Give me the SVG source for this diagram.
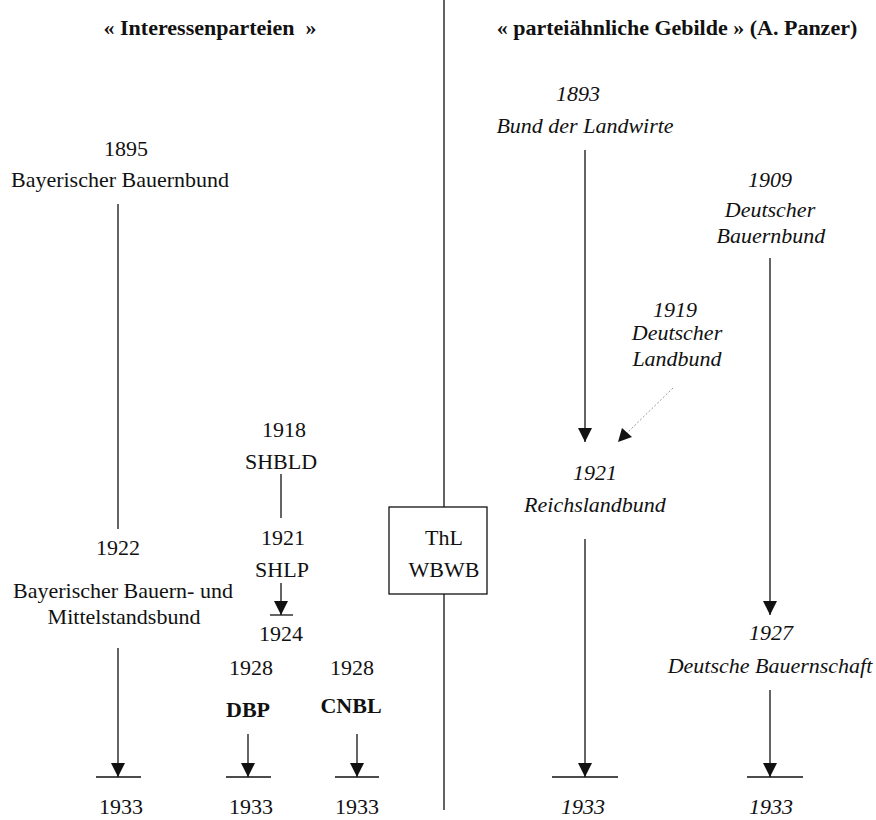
<svg xmlns="http://www.w3.org/2000/svg" width="876" height="820" viewBox="0 0 876 820">
<style>
text{font-family:"Liberation Serif","Times New Roman",serif;font-size:22px;fill:#111;text-anchor:middle}
.b{font-weight:bold}
.i{font-style:italic}
.ln{stroke:#111;stroke-width:1.3;fill:none}
.dot{stroke:#999;stroke-width:1;stroke-dasharray:2 2;fill:none}
</style>
<defs>
<marker id="ah" markerUnits="userSpaceOnUse" markerWidth="14" markerHeight="14" refX="14" refY="7" orient="auto">
<path d="M0,0 L14,7 L0,14 z" fill="#111"/>
</marker>
</defs>
<rect width="876" height="820" fill="#fff"/>
<g id="titles">
<text class="b" x="210" y="35">« Interessenparteien&#160; »</text>
<text class="b" x="677" y="35">« parteiähnliche Gebilde » (A. Panzer)</text>
</g>
<g id="connectors">
<line class="ln" x1="444" y1="0" x2="444" y2="810"/>
<line class="ln" x1="118" y1="204" x2="118" y2="529"/>
<line class="ln" x1="118" y1="648" x2="118" y2="777" marker-end="url(#ah)"/>
<line class="ln" x1="96" y1="777" x2="141" y2="777"/>
<line class="ln" x1="281" y1="474" x2="281" y2="518"/>
<line class="ln" x1="281" y1="583" x2="281" y2="615" marker-end="url(#ah)"/>
<line class="ln" x1="270" y1="615" x2="293" y2="615"/>
<line class="ln" x1="248" y1="734" x2="248" y2="777" marker-end="url(#ah)"/>
<line class="ln" x1="226" y1="777" x2="271" y2="777"/>
<line class="ln" x1="357" y1="734" x2="357" y2="777" marker-end="url(#ah)"/>
<line class="ln" x1="335" y1="777" x2="379" y2="777"/>
<line class="ln" x1="585" y1="150" x2="585" y2="442" marker-end="url(#ah)"/>
<line class="dot" x1="673" y1="388" x2="627" y2="433"/>
<path d="M618,442 L622,428 L632,437 z" fill="#111"/>
<line class="ln" x1="585" y1="539" x2="585" y2="777" marker-end="url(#ah)"/>
<line class="ln" x1="552" y1="777" x2="618" y2="777"/>
<line class="ln" x1="770" y1="258" x2="770" y2="615" marker-end="url(#ah)"/>
<line class="ln" x1="770" y1="690" x2="770" y2="777" marker-end="url(#ah)"/>
<line class="ln" x1="747" y1="777" x2="803" y2="777"/>
</g>
<g id="bbb">
<text x="126" y="156">1895</text>
<text x="120" y="187">Bayerischer Bauernbund</text>
</g>
<g id="bbmb">
<text x="118" y="555">1922</text>
<text x="123" y="598">Bayerischer Bauern- und</text>
<text x="124" y="624">Mittelstandsbund</text>
<text x="121" y="814">1933</text>
</g>
<g id="shbld">
<text x="284" y="437">1918</text>
<text x="281" y="469">SHBLD</text>
</g>
<g id="shlp">
<text x="283" y="545">1921</text>
<text x="282" y="577">SHLP</text>
<text x="281" y="641">1924</text>
</g>
<g id="dbp">
<text x="251" y="675">1928</text>
<text class="b" x="248" y="717">DBP</text>
<text x="251" y="814">1933</text>
</g>
<g id="cnbl">
<text x="352" y="675">1928</text>
<text class="b" x="351" y="713">CNBL</text>
<text x="357" y="814">1933</text>
</g>
<g id="thl">
<rect x="389" y="507" width="98" height="87" fill="#fff" stroke="#111" stroke-width="1.3"/>
<text x="444" y="545">ThL</text>
<text x="444" y="577">WBWB</text>
</g>
<g id="bdl">
<text class="i" x="578" y="101">1893</text>
<text class="i" x="585" y="133">Bund der Landwirte</text>
</g>
<g id="dlb">
<text class="i" x="675" y="317">1919</text>
<text class="i" x="677" y="340">Deutscher</text>
<text class="i" x="677" y="366">Landbund</text>
</g>
<g id="rlb">
<text class="i" x="595" y="480">1921</text>
<text class="i" x="595" y="512">Reichslandbund</text>
<text class="i" x="583" y="814">1933</text>
</g>
<g id="dbb">
<text class="i" x="770" y="187">1909</text>
<text class="i" x="770" y="217">Deutscher</text>
<text class="i" x="771" y="243">Bauernbund</text>
</g>
<g id="dbs">
<text class="i" x="771" y="640">1927</text>
<text class="i" x="770" y="673">Deutsche Bauernschaft</text>
<text class="i" x="771" y="814">1933</text>
</g>
</svg>
